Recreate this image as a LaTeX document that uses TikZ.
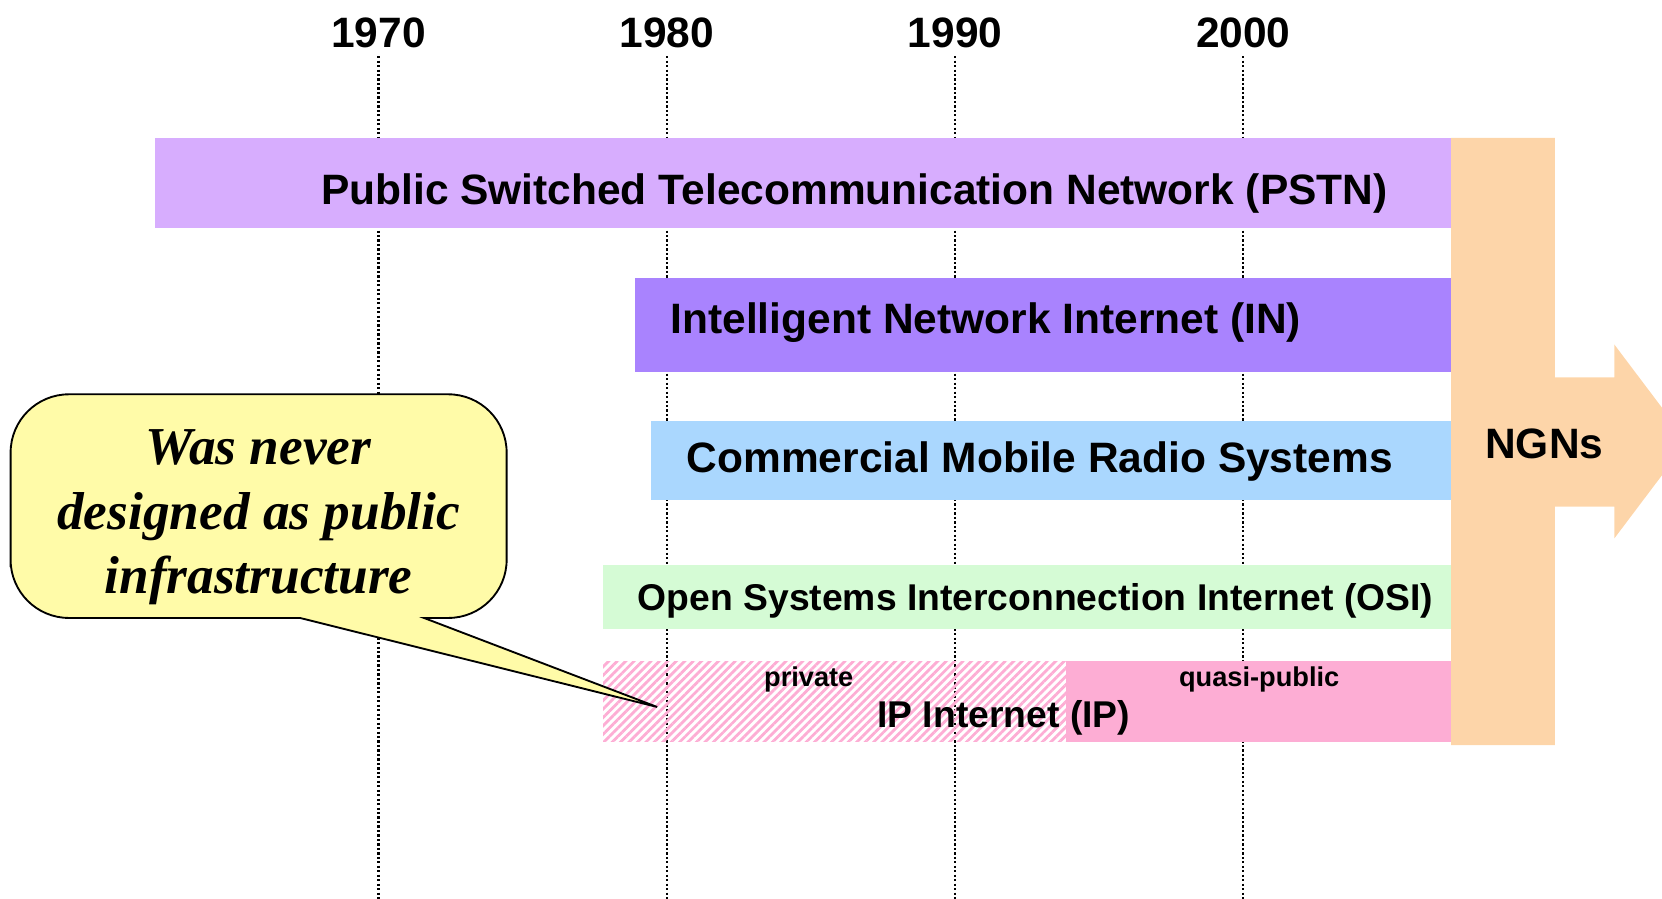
\documentclass[tikz,border=0pt]{standalone}
\usepackage{fontspec}
\setmainfont{Liberation Sans}
\newfontfamily\balloonfont{Liberation Serif}
\usepackage{tikz}
\usetikzlibrary{calc}
\usetikzlibrary{positioning}
\usetikzlibrary{patterns.meta}
\definecolor{pstnlilac}{RGB}{215, 173, 254}
\definecolor{inviolet}{RGB}{169, 131, 254}
\definecolor{mobileblue}{RGB}{170, 215, 254}
\definecolor{osigreen}{RGB}{213, 251, 213}
\definecolor{ippink}{RGB}{253, 173, 212}
\definecolor{ngnpeach}{RGB}{253, 213, 169}
\definecolor{balloonyellow}{RGB}{255, 251, 168}

\begin{document}
\begin{tikzpicture}[x=0.01cm, y=-0.01cm,
        yearlabel/.style={font=\bfseries\fontsize{11.4pt}{13pt}\selectfont, inner sep=2pt},
        barlabel/.style={font=\bfseries\fontsize{11.4pt}{13pt}\selectfont, inner sep=0pt},
        smalllabel/.style={font=\bfseries\fontsize{7.3pt}{8pt}\selectfont, inner sep=0pt},
        gridline/.style={line width=0.6pt, dash pattern=on 0.6pt off 0.6pt},
        balloontext/.style={font=\balloonfont\bfseries\itshape\fontsize{14.3pt}{17.3pt}\selectfont,
                            align=center, inner sep=0pt}]
            \clip (0,0) rectangle (1568,848);
            % Years & grid
            \foreach \yr/\xpos in {1970/357, 1980/629, 1990/901, 2000/1173} {
                \node[yearlabel] (y\yr) at (\xpos, 31) {\yr};
                \draw[gridline] (y\yr.south) -- (\xpos, 848);
            }
            % Networks
            \fill[pstnlilac]   ( 146, 130) rectangle (1369, 215);
            \fill[inviolet]    ( 599, 262) rectangle (1369, 351);
            \fill[mobileblue]  ( 614, 397) rectangle (1369, 472);
            \fill[osigreen]    ( 569, 533) rectangle (1369, 593);
            \fill[pattern={Lines[angle=45, distance=1.6pt, line width=0.75pt]}, pattern color=ippink]
                               ( 569, 624) rectangle (1006, 700);
            \fill[ippink]      (1006, 624) rectangle (1369, 700);
            \node[barlabel]   (pstn)   at ( 806, 183) {Public Switched Telecommunication Network (PSTN)};
            \node[barlabel]   (in)     at ( 930, 304) {Intelligent Network Internet (IN)};
            \node[barlabel]   (mobile) at ( 981, 435) {Commercial Mobile Radio Systems};
            \node[barlabel, font=\bfseries\fontsize{10pt}{12pt}\selectfont]
                              (osi)    at ( 977, 567) {Open Systems Interconnection Internet (OSI)};
            \node[barlabel, font=\bfseries\fontsize{10pt}{12pt}\selectfont]
                              (ip)     at ( 947, 677) {IP Internet (IP)};
            \node[smalllabel] (priv)   at ( 763, 641) {private};
            \node[smalllabel] (quasi)  at (1188, 641) {quasi-public};
            % NGN arrow
            \fill[ngnpeach] (1369, 130) -- (1467, 130) -- (1467, 356) -- (1523, 356) -- (1523, 325)
                         -- (1592, 416.5) -- (1523, 508) -- (1523, 478) -- (1467, 478) -- (1467, 703)
                         -- (1369, 703) -- cycle;
            \node[barlabel]   (ngn)    at (1457, 419) {NGNs};
            % Balloon
            \draw[fill=balloonyellow, line width=0.5pt]
                  (10, 480) [rounded corners=0.55cm] -- (10, 372) -- (478, 372) -- (478, 583)
                  [sharp corners] -- (400, 583) -- (620, 667) -- (283, 583)
                  [rounded corners=0.55cm] -- (10, 583) -- cycle;
            \node[balloontext] (balloon) at (244, 488) {Was never\\designed as public\\infrastructure};
        \end{tikzpicture}
\end{document}
